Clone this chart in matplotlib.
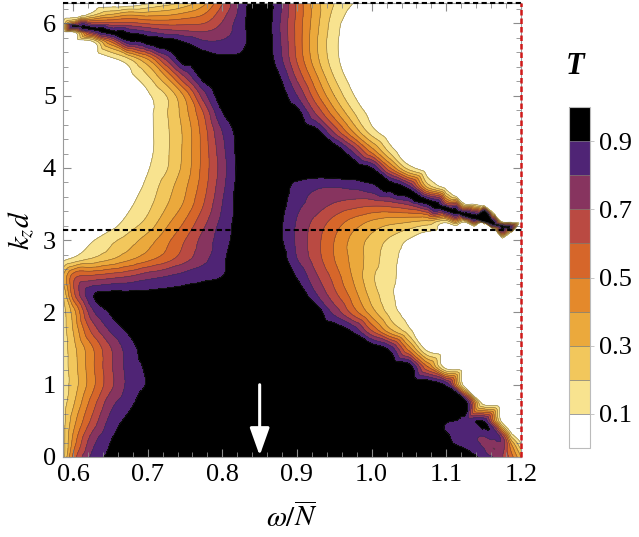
#!/usr/bin/env python3
"""Transmission map T(omega/N, k_z d) with discrete contour bands."""

import numpy as np
import matplotlib
matplotlib.use('Agg')
import matplotlib.pyplot as plt
import matplotlib.tri as mtri
from matplotlib.ticker import MultipleLocator, FormatStrFormatter

# ============================================================================
# data
# ============================================================================

OMEGA = [0.5866, 0.600, 0.625, 0.650, 0.675, 0.700, 0.725, 0.750, 0.775,
         0.800, 0.825, 0.850, 0.875, 0.900, 0.925, 0.950, 0.975, 1.000,
         1.025, 1.050, 1.075, 1.100, 1.125, 1.150, 1.175, 1.200]

KZD = [0.00, 0.25, 0.50, 0.75, 1.00, 1.25, 1.50, 1.75, 2.00, 2.25, 2.50,
       2.75, 3.00, 3.25, 3.50, 3.75, 4.00, 4.25, 4.50, 4.75, 5.00, 5.25,
       5.50, 5.75, 5.875, 6.00, 6.125, 6.2832]

# one row of T per KZD value, one column per OMEGA value
T_ROWS = [
    [0.15, 0.52, 0.82, 0.93, 1, 1, 1, 1, 1, 1, 1, 1, 1, 1, 1, 1, 1, 1, 1, 1, 1, 1, 0.97, 0.86, 0.71, 0.30],
    [0.15, 0.42, 0.74, 0.89, 0.97, 1, 1, 1, 1, 1, 1, 1, 1, 1, 1, 1, 1, 1, 1, 1, 1, 0.93, 0.84, 0.78, 0.76, 0.03],
    [0.15, 0.35, 0.62, 0.83, 0.93, 1, 1, 1, 1, 1, 1, 1, 1, 1, 1, 1, 1, 1, 1, 1, 0.98, 0.91, 0.87, 0.89, 0.05, 0.0],
    [0.15, 0.28, 0.54, 0.76, 0.87, 0.96, 1, 1, 1, 1, 1, 1, 1, 1, 1, 1, 1, 1, 1, 1, 1, 1, 0.98, 0.04, 0, 0],
    [0.15, 0.24, 0.46, 0.67, 0.83, 0.91, 1, 1, 1, 1, 1, 1, 1, 1, 1, 1, 1, 1, 1, 1, 1, 0.87, 0.02, 0, 0, 0],
    [0.15, 0.25, 0.47, 0.68, 0.84, 0.92, 1, 1, 1, 1, 1, 1, 1, 1, 1, 1, 1, 1, 1, 0.96, 0.50, 0.03, 0, 0, 0, 0],
    [0.15, 0.26, 0.48, 0.69, 0.85, 0.95, 1, 1, 1, 1, 1, 1, 1, 1, 1, 1, 1, 0.98, 0.86, 0.45, 0.05, 0, 0, 0, 0, 0],
    [0.15, 0.30, 0.62, 0.81, 0.92, 1, 1, 1, 1, 1, 1, 1, 1, 1, 1, 0.98, 0.88, 0.60, 0.33, 0.13, 0.01, 0, 0, 0, 0, 0],
    [0.15, 0.34, 0.76, 0.91, 1, 1, 1, 1, 1, 1, 1, 1, 1, 1, 0.97, 0.77, 0.56, 0.35, 0.16, 0.05, 0, 0, 0, 0, 0, 0],
    [0.20, 0.55, 0.88, 0.93, 0.93, 0.93, 0.94, 0.95, 0.97, 1, 1, 1, 1, 0.98, 0.81, 0.63, 0.45, 0.26, 0.12, 0.04, 0, 0, 0, 0, 0, 0],
    [0.30, 0.55, 0.62, 0.66, 0.70, 0.76, 0.80, 0.84, 0.87, 0.90, 0.97, 1, 0.98, 0.89, 0.72, 0.56, 0.39, 0.22, 0.13, 0.04, 0, 0, 0, 0, 0, 0],
    [0.05, 0.11, 0.20, 0.28, 0.37, 0.46, 0.55, 0.66, 0.77, 0.88, 0.97, 1, 0.97, 0.80, 0.65, 0.50, 0.37, 0.25, 0.14, 0.05, 0, 0, 0, 0, 0, 0],
    [0, 0.02, 0.09, 0.17, 0.25, 0.35, 0.47, 0.60, 0.74, 0.85, 0.96, 1, 0.93, 0.78, 0.64, 0.50, 0.37, 0.27, 0.18, 0.09, 0.02, 0, 0, 0, 0, 0],
    [0, 0, 0, 0.05, 0.14, 0.23, 0.37, 0.51, 0.67, 0.83, 0.95, 1, 0.93, 0.79, 0.67, 0.56, 0.46, 0.38, 0.33, 0.30, 0.26, 0.12, 0.10, 0.35, 0.12, 0],
    [0, 0, 0, 0, 0.08, 0.17, 0.29, 0.42, 0.60, 0.80, 0.95, 1, 0.95, 0.83, 0.76, 0.69, 0.65, 0.63, 0.65, 0.72, 0.90, 0.65, 0.10, 0, 0, 0],
    [0, 0, 0, 0, 0.03, 0.13, 0.25, 0.38, 0.56, 0.77, 0.95, 1, 0.97, 0.87, 0.82, 0.81, 0.83, 0.88, 0.95, 0.81, 0.25, 0.02, 0, 0, 0, 0],
    [0, 0, 0, 0, 0, 0.09, 0.19, 0.34, 0.54, 0.75, 0.94, 1, 1, 1, 1, 1, 0.98, 0.90, 0.50, 0.15, 0.01, 0, 0, 0, 0, 0],
    [0, 0, 0, 0, 0, 0.07, 0.18, 0.33, 0.54, 0.77, 0.95, 1, 1, 1, 1, 0.98, 0.76, 0.44, 0.15, 0.02, 0, 0, 0, 0, 0, 0],
    [0, 0, 0, 0, 0, 0.07, 0.18, 0.33, 0.55, 0.80, 0.95, 1, 1, 1, 0.95, 0.68, 0.40, 0.15, 0.02, 0, 0, 0, 0, 0, 0, 0],
    [0, 0, 0, 0, 0, 0.07, 0.19, 0.36, 0.60, 0.89, 0.99, 1, 1, 0.95, 0.70, 0.45, 0.22, 0.06, 0, 0, 0, 0, 0, 0, 0, 0],
    [0, 0, 0, 0, 0, 0.08, 0.20, 0.42, 0.75, 0.97, 1, 1, 0.97, 0.80, 0.54, 0.30, 0.11, 0, 0, 0, 0, 0, 0, 0, 0, 0],
    [0, 0, 0, 0, 0.06, 0.18, 0.39, 0.69, 0.94, 1, 1, 1, 0.92, 0.68, 0.43, 0.20, 0.05, 0, 0, 0, 0, 0, 0, 0, 0, 0],
    [0, 0, 0, 0.06, 0.18, 0.39, 0.71, 0.97, 0.97, 0.93, 0.93, 1, 0.85, 0.59, 0.34, 0.14, 0.02, 0, 0, 0, 0, 0, 0, 0, 0, 0],
    [0, 0, 0.08, 0.50, 0.88, 0.95, 0.95, 0.89, 0.81, 0.81, 0.86, 1, 0.83, 0.57, 0.32, 0.13, 0.02, 0, 0, 0, 0, 0, 0, 0, 0, 0],
    [0, 0.05, 0.70, 0.93, 0.89, 0.82, 0.76, 0.73, 0.71, 0.76, 0.85, 1, 0.82, 0.57, 0.33, 0.14, 0.02, 0, 0, 0, 0, 0, 0, 0, 0, 0],
    [0.10, 0.50, 0.66, 0.63, 0.63, 0.59, 0.57, 0.58, 0.60, 0.71, 0.86, 1, 0.82, 0.57, 0.34, 0.15, 0.03, 0, 0, 0, 0, 0, 0, 0, 0, 0],
    [0, 0, 0.15, 0.30, 0.38, 0.36, 0.38, 0.43, 0.50, 0.66, 0.84, 1, 0.83, 0.58, 0.35, 0.17, 0.06, 0, 0, 0, 0, 0, 0, 0, 0, 0],
    [0, 0, 0, 0, 0, 0.08, 0.15, 0.24, 0.37, 0.59, 0.83, 0.96, 0.84, 0.58, 0.34, 0.20, 0.10, 0, 0, 0, 0, 0, 0, 0, 0, 0],
]

# extra readings where the bands pinch together
# thin black line running into (1.19, 3.17)
RIDGE_R_OMEGA = [1.0375, 1.05, 1.0625, 1.075, 1.0875, 1.10, 1.1125, 1.125,
                 1.1375, 1.15, 1.1625, 1.175, 1.185]
RIDGE_R_KZD = [3.72, 3.66, 3.58, 3.53, 3.48, 3.44, 3.395, 3.35,
               3.305, 3.26, 3.225, 3.195, 3.175]
RIDGE_R_T = [0.96, 0.96, 0.96, 0.95, 0.95, 0.95, 0.95, 0.94,
             0.94, 0.93, 0.93, 0.92, 0.91]
# thin black wedge leaving (0.587, 5.99)
RIDGE_L_OMEGA = [0.600, 0.6125, 0.625, 0.6375, 0.6625, 0.675, 0.6875,
                 0.7125, 0.7375, 0.7625]
RIDGE_L_KZD = [5.97, 5.955, 5.93, 5.905, 5.85, 5.82, 5.795,
               5.73, 5.65, 5.55]
RIDGE_L_T = [0.91, 0.92, 0.93, 0.94, 0.95, 0.95, 0.95, 0.96, 0.96, 0.96]
# white just outside the pinch
EDGE_OMEGA = [1.1125, 1.1375, 1.1625, 1.1875, 1.1125, 1.1375, 1.1625, 1.1875,
              0.6125, 1.1875]
EDGE_KZD = [3.64, 3.52, 3.40, 3.26, 3.18, 3.18, 3.15, 3.10,
            6.13, 0.375]
EDGE_T = [0.02, 0.02, 0.02, 0.02, 0.04, 0.04, 0.03, 0.02,
          0.02, 0.02]
# purple pocket closing on (1.2, 0)
POCKET_OMEGA = [1.1000, 1.1125, 1.1125, 1.1375, 1.1375, 1.1625, 1.1625, 1.1875, 1.1375]
POCKET_KZD = [0.400, 0.375, 0.250, 0.375, 0.125, 0.375, 0.125, 0.125, 0.250]
POCKET_T = [0.89, 0.86, 0.87, 0.84, 0.85, 0.85, 0.70, 0.45, 0.81]

LEVELS = [0.0, 0.1, 0.2, 0.3, 0.4, 0.5, 0.6, 0.7, 0.8, 0.9, 1.0]
BAND_COLORS = ['#FFFFFF', '#F8E38F', '#F2C75C', '#EBA93C', '#E4892B',
               '#D6662A', '#BA4A42', '#87345F', '#4F2475', '#000000']
CBAR_TICKS = [0.1, 0.3, 0.5, 0.7, 0.9]

HLINES_KZD = [np.pi, 2 * np.pi]
OMEGA_LIMIT = 1.2
ARROW_OMEGA = 0.85
ARROW_FROM = 1.0
ARROW_TO = 0.02

plt.rcParams['font.family'] = ['Liberation Serif', 'DejaVu Serif']
plt.rcParams['mathtext.fontset'] = 'stix'


def smooth_field():
    """readings -> refined triangulation (library cubic refiner)"""
    om = np.array(OMEGA)
    kz = np.array(KZD)
    W, K = np.meshgrid(om, kz)
    x = np.concatenate([W.ravel(), RIDGE_R_OMEGA, RIDGE_L_OMEGA,
                        EDGE_OMEGA, POCKET_OMEGA])
    y = np.concatenate([K.ravel(), RIDGE_R_KZD, RIDGE_L_KZD,
                        EDGE_KZD, POCKET_KZD])
    z = np.concatenate([np.array(T_ROWS, dtype=float).ravel(), RIDGE_R_T,
                        RIDGE_L_T, EDGE_T, POCKET_T])
    # triangulate in a unit square so both axes weigh the same
    x0, x1, y0, y1 = om[0], om[-1], kz[0], kz[-1]
    tri = mtri.Triangulation((x - x0) / (x1 - x0), (y - y0) / (y1 - y0))
    interp = mtri.CubicTriInterpolator(tri, z, kind='geom')
    refiner = mtri.UniformTriRefiner(tri)
    tri_f, T_f = refiner.refine_field(z, triinterpolator=interp, subdiv=3)
    tri_d = mtri.Triangulation(x0 + tri_f.x * (x1 - x0),
                               y0 + tri_f.y * (y1 - y0), tri_f.triangles)
    # keep overshoot inside the outer bands
    return tri_d, np.clip(T_f, 0.001, 0.999)


def main():
    fig = plt.figure(figsize=(6.39, 5.37), dpi=100)
    ax = fig.add_axes([0.0986, 0.149, 0.7167, 0.8454])

    tri_d, T_f = smooth_field()
    cf = ax.tricontourf(tri_d, T_f, levels=LEVELS, colors=BAND_COLORS)
    ax.tricontour(tri_d, T_f, levels=LEVELS[1:-1], colors='#333333',
                  linewidths=0.45, alpha=0.55)

    for yv in HLINES_KZD:
        ax.axhline(yv, color='black', lw=1.5, ls=(0, (2.5, 1.6)), zorder=5,
                   clip_on=False)
    ax.axvline(OMEGA_LIMIT, color='#D01818', lw=1.8, ls=(0, (2.2, 1.2)),
               zorder=6, clip_on=False)

    ax.annotate('', xy=(ARROW_OMEGA, ARROW_TO), xytext=(ARROW_OMEGA, ARROW_FROM),
                arrowprops=dict(arrowstyle='-|>,head_length=0.7,head_width=0.25',
                                color='white', lw=2.2, mutation_scale=24,
                                shrinkA=0, shrinkB=0),
                zorder=7)

    ax.set_xlim(OMEGA[0], OMEGA[-1])
    ax.set_ylim(KZD[0], KZD[-1])
    ax.set_xticks([0.6, 0.7, 0.8, 0.9, 1.0, 1.1, 1.2])
    ax.xaxis.set_major_formatter(FormatStrFormatter('%.1f'))
    ax.xaxis.set_minor_locator(MultipleLocator(0.02))
    ax.yaxis.set_major_locator(MultipleLocator(1))
    ax.yaxis.set_minor_locator(MultipleLocator(0.2))
    ax.tick_params(which='both', direction='in', top=True, right=True,
                   color='#8c8c8c', labelsize=19)
    ax.tick_params(which='major', length=6, width=0.8, pad=5)
    ax.tick_params(which='minor', length=3.5, width=0.6)
    for sp in ax.spines.values():
        sp.set_color('#9a9a9a')
        sp.set_linewidth(0.8)

    ax.set_xlabel(r'$\omega/\overline{N}$', fontsize=21, labelpad=12)
    ax.set_ylabel(r'$k_z d$', fontsize=21, labelpad=4)

    # colour legend
    cax = fig.add_axes([0.8905, 0.1657, 0.033, 0.635])
    cb = fig.colorbar(cf, cax=cax, ticks=CBAR_TICKS, drawedges=True)
    cb.outline.set_edgecolor('#bbbbbb')
    cb.outline.set_linewidth(0.8)
    cb.dividers.set_color('#777777')
    cb.dividers.set_linewidth(0.5)
    cb.ax.tick_params(labelsize=19, length=3, color='#bbbbbb', width=0.6)
    fig.text(0.9, 1 - 66 / 537, 'T', fontsize=22, fontstyle='italic',
             fontweight='bold', ha='center', va='center')

    fig.savefig('out.png', dpi=100, facecolor='white')
    plt.close(fig)


if __name__ == '__main__':
    main()
